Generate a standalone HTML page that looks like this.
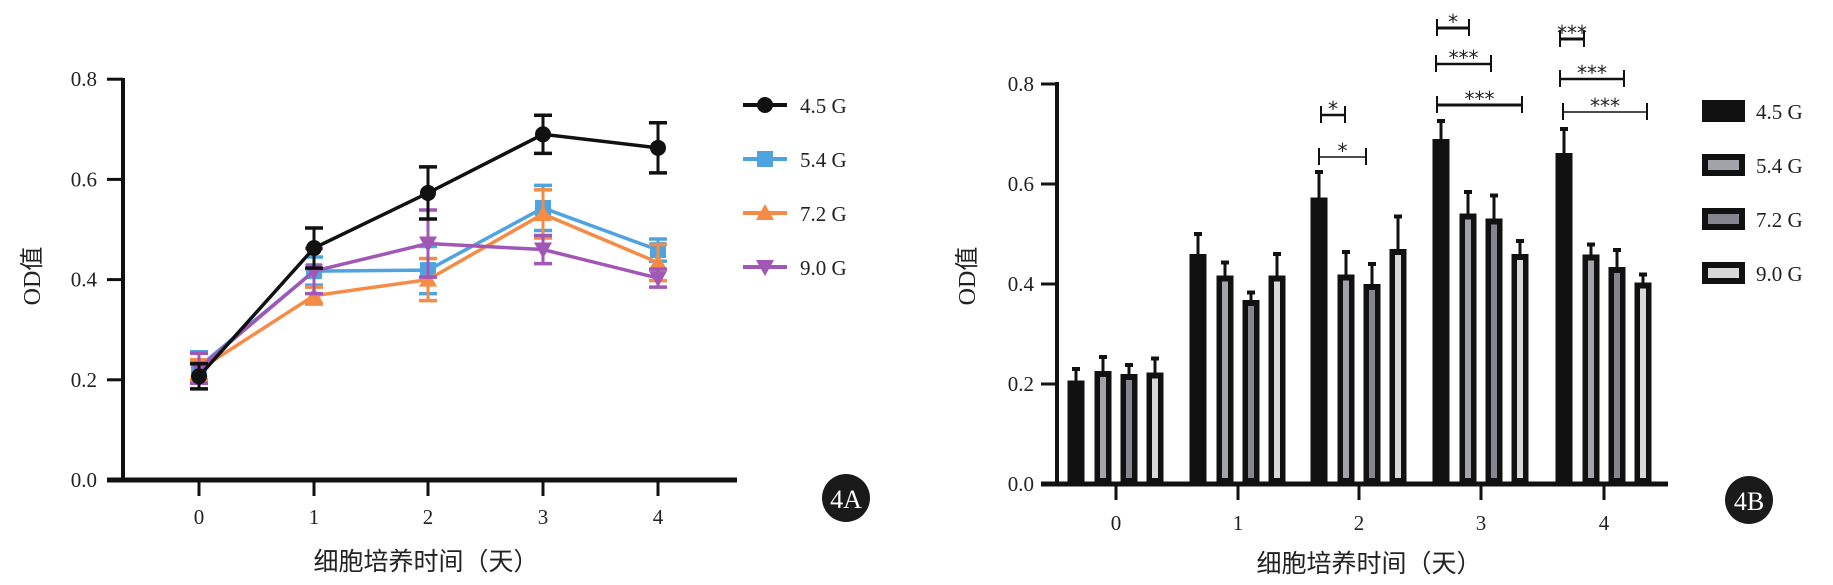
<!DOCTYPE html>
<html><head><meta charset="utf-8"><style>
html,body{margin:0;padding:0;background:#fff;}
svg{display:block;}
text{font-family:"Liberation Serif","Noto Serif CJK SC",serif;fill:#222;}
.cjk{font-family:"Liberation Serif","Noto Sans CJK SC",sans-serif;}
</style></head><body>
<svg id="s" width="1833" height="585" viewBox="0 0 1833 585" xmlns="http://www.w3.org/2000/svg"></svg>
<script>
const s=document.getElementById('s');let h='';
const LY=v=>480-501*v, LX=[199,314,428,543,658];
h+='<line x1="123" y1="78" x2="123" y2="481" stroke="#111" stroke-width="4"/>';
h+='<line x1="107" y1="480" x2="737" y2="480" stroke="#111" stroke-width="5"/>';
[0,0.2,0.4,0.6,0.8].forEach(v=>{let y=LY(v);h+=`<line x1="107" y1="${y}" x2="123" y2="${y}" stroke="#111" stroke-width="3"/><text x="97" y="${y+7}" font-size="21" text-anchor="end">${v.toFixed(1)}</text>`;});
LX.forEach((x,i)=>{h+=`<line x1="${x}" y1="480" x2="${x}" y2="496" stroke="#111" stroke-width="3"/><text x="${x}" y="524" font-size="21" text-anchor="middle">${i}</text>`;});
h+='<text class="cjk" x="426" y="570" font-size="25" text-anchor="middle">细胞培养时间（天）</text>';
h+='<text class="cjk" transform="translate(40,276) rotate(-90)" font-size="24" text-anchor="middle">OD值</text>';
const ser=[
 {c:'#4fa3e0',m:'sq',v:[.226,.417,.419,.543,.459],e:[.03,.028,.047,.045,.022]},
 {c:'#f58b45',m:'up',v:[.22,.368,.40,.531,.434],e:[.02,.017,.042,.048,.036]},
 {c:'#a057b5',m:'dn',v:[.223,.417,.472,.46,.403],e:[.03,.045,.067,.028,.018]},
 {c:'#111',m:'ci',v:[.207,.463,.573,.690,.663],e:[.025,.04,.052,.038,.05]}];
function mk(m,x,y,c){
 if(m=='ci')return `<circle cx="${x}" cy="${y}" r="8" fill="${c}"/>`;
 if(m=='sq')return `<rect x="${x-8}" y="${y-8}" width="16" height="16" fill="${c}"/>`;
 if(m=='up')return `<polygon points="${x},${y-9} ${x-9},${y+7} ${x+9},${y+7}" fill="${c}"/>`;
 return `<polygon points="${x},${y+9} ${x-9},${y-7} ${x+9},${y-7}" fill="${c}"/>`;}
ser.forEach(o=>{
 h+=`<polyline points="${o.v.map((v,i)=>LX[i]+','+LY(v)).join(' ')}" fill="none" stroke="${o.c}" stroke-width="3.5"/>`;
 o.v.forEach((v,i)=>{let x=LX[i],a=LY(v+o.e[i]),b=LY(v-o.e[i]);
  h+=`<line x1="${x}" y1="${a}" x2="${x}" y2="${b}" stroke="${o.c}" stroke-width="3"/><line x1="${x-9}" y1="${a}" x2="${x+9}" y2="${a}" stroke="${o.c}" stroke-width="3.5"/><line x1="${x-9}" y1="${b}" x2="${x+9}" y2="${b}" stroke="${o.c}" stroke-width="3.5"/>`;
  h+=mk(o.m,x,LY(v),o.c);});});
const leg=[['#111','ci','4.5 G'],['#4fa3e0','sq','5.4 G'],['#f58b45','up','7.2 G'],['#a057b5','dn','9.0 G']];
leg.forEach((l,i)=>{let y=105+54*i;h+=`<line x1="743" y1="${y}" x2="787" y2="${y}" stroke="${l[0]}" stroke-width="4"/>`+mk(l[1],765,y,l[0])+`<text x="800" y="${y+8}" font-size="21">${l[2]}</text>`;});
h+='<circle cx="846" cy="498" r="24" fill="#1a1a1a"/><text x="846" y="508" font-size="26" text-anchor="middle" style="fill:#fff">4A</text>';
const RY=v=>484-500*v, RX=[1116,1238,1359,1481,1604], off=[-40,-13,13,39];
const fills=['#111','#a2a2aa','#858590','#d8d8d8'];
const bv=[[.207,.226,.22,.223],[.46,.417,.368,.417],[.573,.419,.40,.47],[.690,.541,.531,.46],[.662,.459,.434,.403]];
const be=[[.025,.03,.02,.03],[.042,.028,.017,.045],[.053,.047,.042,.067],[.038,.045,.048,.028],[.05,.022,.036,.018]];
bv.forEach((g,gi)=>g.forEach((v,k)=>{let cx=RX[gi]+off[k],t=RY(v),te=RY(v+be[gi][k]);
 h+=`<line x1="${cx}" y1="${t}" x2="${cx}" y2="${te}" stroke="#111" stroke-width="3"/><rect x="${cx-4}" y="${te-1}" width="8" height="4" fill="#111"/>`;
 h+=`<rect x="${cx-8.5}" y="${t}" width="17" height="${484-t}" fill="#111"/>`;
 if(k>0)h+=`<rect x="${cx-3}" y="${t+6}" width="6" height="${478-t-6}" fill="${fills[k]}"/>`;}));
h+='<line x1="1057" y1="82" x2="1057" y2="486" stroke="#111" stroke-width="4"/>';
h+='<line x1="1041" y1="484" x2="1668" y2="484" stroke="#111" stroke-width="5"/>';
[0,0.2,0.4,0.6,0.8].forEach(v=>{let y=RY(v);h+=`<line x1="1041" y1="${y}" x2="1057" y2="${y}" stroke="#111" stroke-width="3"/><text x="1034" y="${y+7}" font-size="21" text-anchor="end">${v.toFixed(1)}</text>`;});
RX.forEach((x,i)=>{h+=`<line x1="${x}" y1="484" x2="${x}" y2="500" stroke="#111" stroke-width="3"/><text x="${x}" y="530" font-size="21" text-anchor="middle">${i}</text>`;});
h+='<text class="cjk" x="1369" y="572" font-size="25" text-anchor="middle">细胞培养时间（天）</text>';
h+='<text class="cjk" transform="translate(975,276) rotate(-90)" font-size="24" text-anchor="middle">OD值</text>';
const br=[[1321,1345,115,'*',2.5],[1319,1366,157,'*',1.5],[1437,1469,28,'*',3],[1436,1491,64,'***',2.5],[1437,1522,105,'***',3],[1560,1584,39,'***',3],[1560,1624,79,'***',2.5],[1563,1647,112,'***',1.5]];
br.forEach(b=>{h+=`<line x1="${b[0]}" y1="${b[2]}" x2="${b[1]}" y2="${b[2]}" stroke="#111" stroke-width="${b[4]}"/><line x1="${b[0]}" y1="${b[2]-9}" x2="${b[0]}" y2="${b[2]+8}" stroke="#111" stroke-width="2"/><line x1="${b[1]}" y1="${b[2]-9}" x2="${b[1]}" y2="${b[2]+8}" stroke="#111" stroke-width="2"/><text x="${(b[0]+b[1])/2}" y="${b[2]+1}" font-size="20" text-anchor="middle" style="font-family:'DejaVu Sans',sans-serif">${b[3]}</text>`;});
['4.5 G','5.4 G','7.2 G','9.0 G'].forEach((t,i)=>{let y=100+54*i;h+=`<rect x="1702" y="${y}" width="43" height="22" fill="#111"/>`;if(i>0)h+=`<rect x="1708" y="${y+6}" width="31" height="10" fill="${fills[i]}"/>`;h+=`<text x="1756" y="${y+19}" font-size="21">${t}</text>`;});
h+='<circle cx="1749" cy="500" r="24" fill="#1a1a1a"/><text x="1749" y="510" font-size="26" text-anchor="middle" style="fill:#fff">4B</text>';
s.innerHTML=h;
</script>
</body></html>
